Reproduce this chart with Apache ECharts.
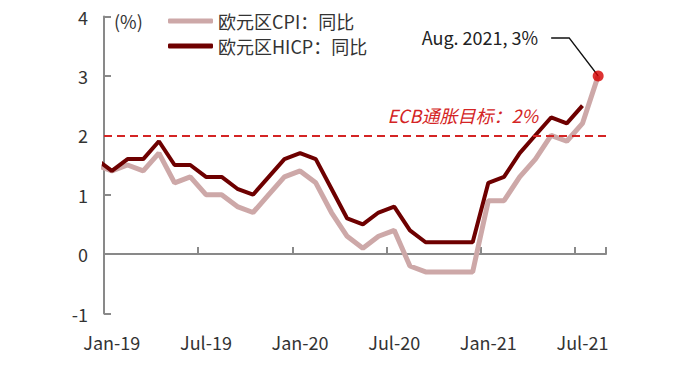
<!DOCTYPE html>
<html><head><meta charset="utf-8">
<script src="https://cdn.jsdelivr.net/npm/echarts@6/dist/echarts.min.js"></script>
<style>html,body{margin:0;padding:0;background:#fff}#c{width:694px;height:368px}</style>
</head><body><div id="c"></div>
<script>
// ---- data ----
const months = ['Jan-19','Feb-19','Mar-19','Apr-19','May-19','Jun-19','Jul-19','Aug-19','Sep-19','Oct-19','Nov-19','Dec-19',
  'Jan-20','Feb-20','Mar-20','Apr-20','May-20','Jun-20','Jul-20','Aug-20','Sep-20','Oct-20','Nov-20','Dec-20',
  'Jan-21','Feb-21','Mar-21','Apr-21','May-21','Jun-21','Jul-21','Aug-21'];
// value of the month before the first category (Dec-18), partly visible at the left edge
const cpiPrev = 1.5;
const hicpPrev = 1.6;
const cpi = [1.4,1.5,1.4,1.7,1.2,1.3,1.0,1.0,0.8,0.7,1.0,1.3,
  1.4,1.2,0.7,0.3,0.1,0.3,0.4,-0.2,-0.3,-0.3,-0.3,-0.3,
  0.9,0.9,1.3,1.6,2.0,1.9,2.2,3.0];
const hicp = [1.4,1.6,1.6,1.9,1.5,1.5,1.3,1.3,1.1,1.0,1.3,1.6,
  1.7,1.6,1.1,0.6,0.5,0.7,0.8,0.4,0.2,0.2,0.2,0.2,
  1.2,1.3,1.7,2.0,2.3,2.2,2.5,null];
const seriesNames = ['欧元区CPI：同比','欧元区HICP：同比'];
const targetValue = 2;
const targetLabel = 'ECB通胀目标：2%';
const noteLabel = 'Aug. 2021, 3%';
const unitLabel = '(%)';
const yMin = -1, yMax = 4, yStep = 1;

// ---- build ----
(function () {
const toXY = (prev, arr) => [[-0.5, prev]].concat(arr.map((v, i) => [i + 0.5, v]));
const lastIdx = cpi.length - 1;
const FONT = '"Noto Sans CJK SC", "Noto Sans", sans-serif';
const AX = '#898989';
const FS = 18;
const chart = echarts.init(document.getElementById('c'), null, {renderer: 'svg'});
const option = {
  animation: false,
  textStyle: {fontFamily: FONT},
  grid: {left: 104, right: 88, top: 16.5, bottom: 54.5},
  legend: {
    data: seriesNames, orient: 'vertical', left: 168, top: 11, padding: 0,
    itemWidth: 45, itemHeight: 5, itemGap: 5, icon: 'roundRect',
    textStyle: {fontSize: FS, color: '#333', fontFamily: FONT, lineHeight: 20}
  },
  xAxis: [
    {type: 'category', data: months, boundaryGap: true,
      axisLine: {onZero: true, lineStyle: {color: AX, width: 2}},
      axisTick: {show: true, inside: true, length: 7, interval: 5, lineStyle: {color: AX, width: 2}},
      axisLabel: {show: false}, splitLine: {show: false}},
    {type: 'category', data: months, boundaryGap: true, position: 'bottom',
      axisLine: {show: false, onZero: false}, axisTick: {show: false},
      axisLabel: {interval: 5, margin: 19, fontSize: FS, color: '#333', fontFamily: FONT}},
    {type: 'value', min: 0, max: months.length, show: false}
  ],
  yAxis: {
    type: 'value', min: yMin, max: yMax, interval: yStep,
    axisLine: {show: true, onZero: false, lineStyle: {color: AX, width: 2}},
    axisTick: {show: true, inside: true, length: 7, lineStyle: {color: AX, width: 2}},
    splitLine: {show: false},
    axisLabel: {fontSize: FS, color: '#333', margin: 16, fontFamily: FONT}
  },
  series: [
    {name: seriesNames[0], type: 'line', xAxisIndex: 2, data: toXY(cpiPrev, cpi),
      color: '#cda8a8', showSymbol: false, symbol: 'none', z: 2,
      lineStyle: {color: '#cda8a8', width: 5}},
    {name: seriesNames[1], type: 'line', xAxisIndex: 2, data: toXY(hicpPrev, hicp),
      color: '#6e0000', showSymbol: false, symbol: 'none', z: 3,
      lineStyle: {color: '#6e0000', width: 4},
      markLine: {silent: true, symbol: 'none', label: {show: false},
        lineStyle: {color: '#d42424', width: 2, type: [8, 5]},
        data: [{yAxis: targetValue}]}},
    {name: 'pt', type: 'scatter', xAxisIndex: 2, data: [[lastIdx + 0.5, cpi[lastIdx]]],
      symbolSize: 11, itemStyle: {color: '#d40000'}, z: 5}
  ]
};
chart.setOption(option);

const pt = chart.convertToPixel({xAxisIndex: 2, yAxisIndex: 0}, [lastIdx + 0.5, cpi[lastIdx]]);
const tgtY = chart.convertToPixel({yAxisIndex: 0}, targetValue);
const gRight = chart.convertToPixel({xAxisIndex: 2}, months.length);
const gTop = chart.convertToPixel({yAxisIndex: 0}, yMax);
const gLeft = chart.convertToPixel({xAxisIndex: 2}, 0);
chart.setOption({graphic: [
  {type: 'text', x: gLeft + 10, y: gTop + 4.5, style: {text: unitLabel, fill: '#333',
    font: FS + 'px ' + FONT, textVerticalAlign: 'middle'}},
  {type: 'text', x: gRight - 68, y: tgtY - 20, style: {text: targetLabel, fill: '#d42424',
    font: 'italic ' + FS + 'px ' + FONT, textAlign: 'right', textVerticalAlign: 'middle'}},
  {type: 'text', x: pt[0] - 60, y: pt[1] - 38.5, style: {text: noteLabel, fill: '#222',
    font: FS + 'px ' + FONT, textAlign: 'right', textVerticalAlign: 'middle'}},
  {type: 'polyline', shape: {points: [[pt[0] - 47, pt[1] - 38], [pt[0] - 29, pt[1] - 38], [pt[0], pt[1]]]},
    style: {stroke: '#111', lineWidth: 1.5, fill: null}, z: 4}
]});
})();
</script>
</body></html>
